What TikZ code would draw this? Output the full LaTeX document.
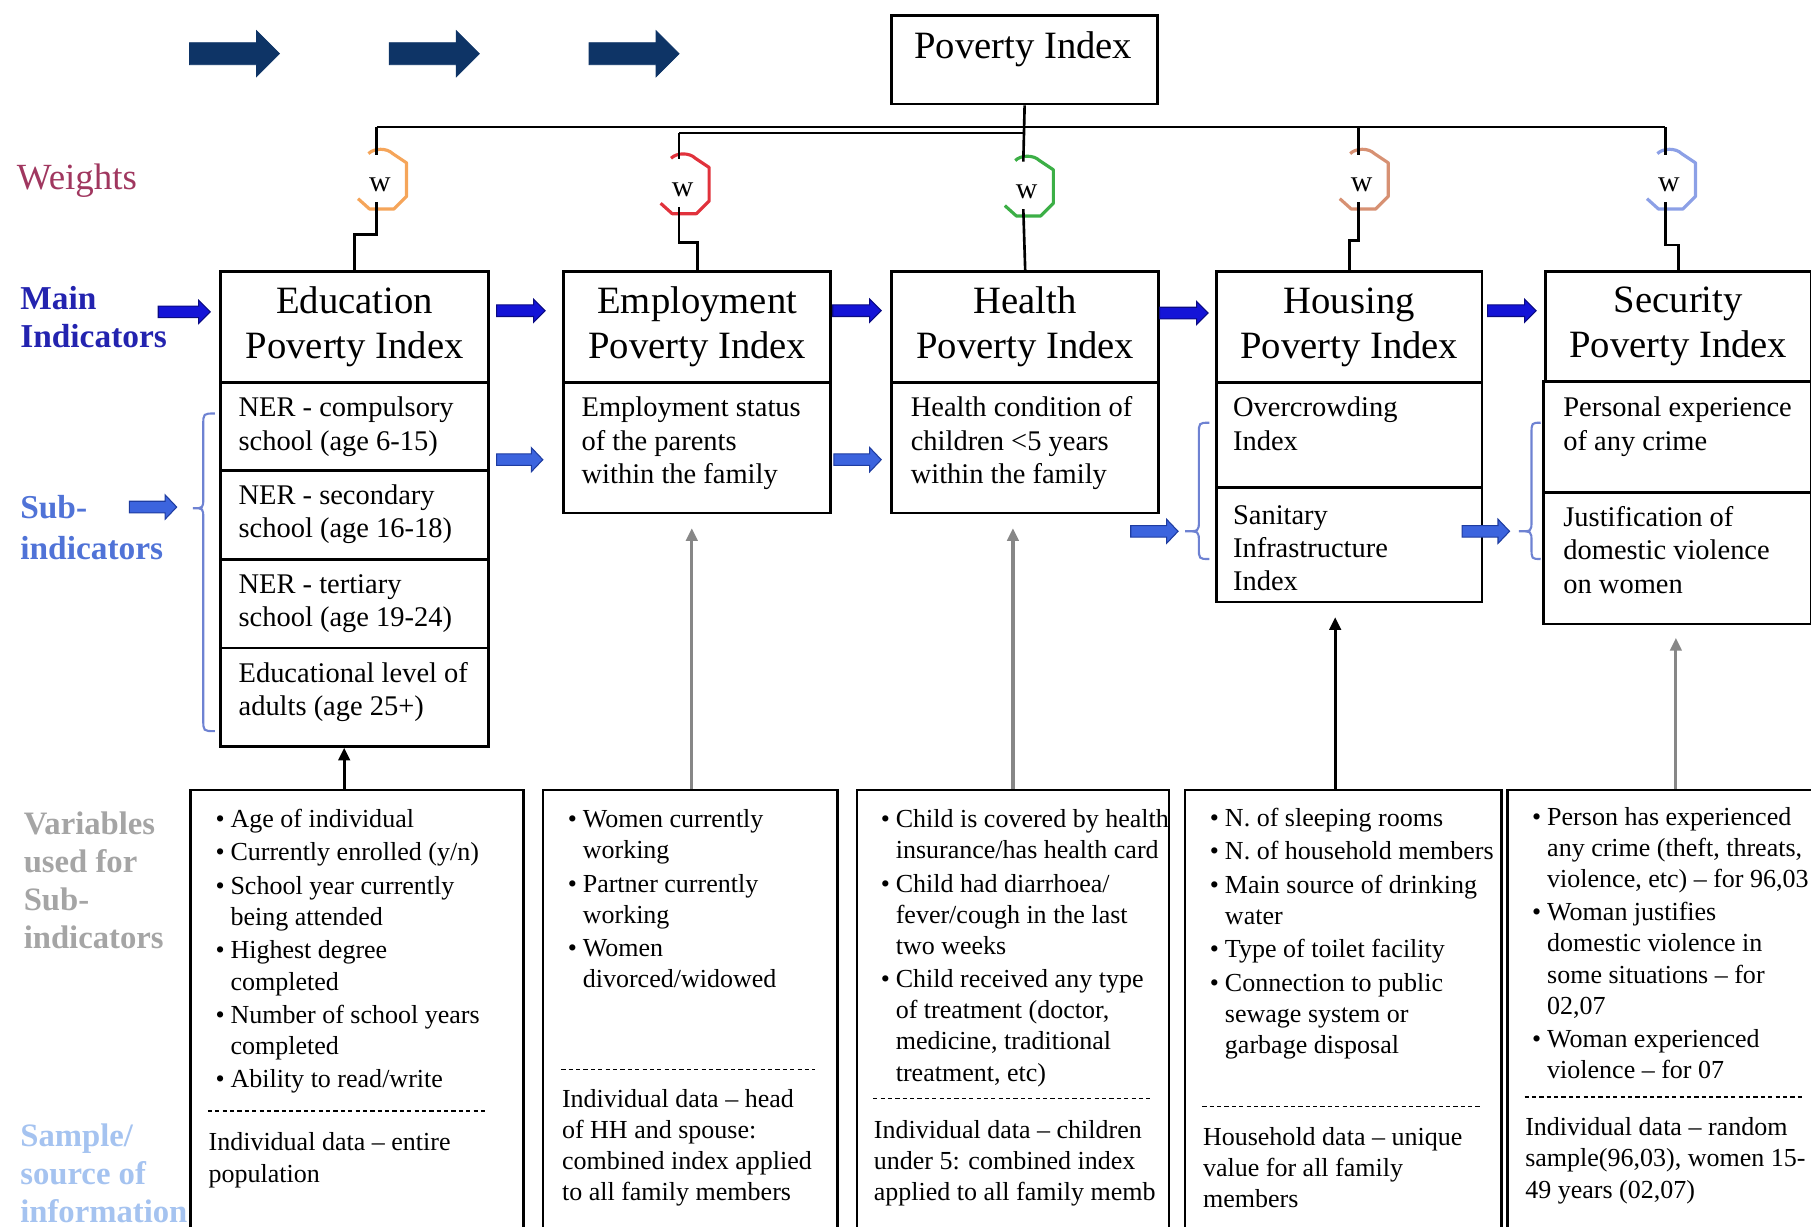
\documentclass[tikz,border=0pt]{standalone}
\usepackage{fontspec}
\setmainfont{Liberation Serif}
\usetikzlibrary{arrows.meta}
\newdimen\pxu
\pxu=0.1155mm
\definecolor{navyA}{RGB}{14,52,102}
\definecolor{mainblue}{RGB}{20,20,215}
\definecolor{mainblueD}{RGB}{10,10,130}
\definecolor{subblue}{RGB}{60,100,222}
\definecolor{subblueD}{RGB}{30,60,160}
\definecolor{bracecol}{RGB}{110,130,210}
\definecolor{wtcol}{RGB}{160,55,95}
\definecolor{milab}{RGB}{35,35,175}
\definecolor{silab}{RGB}{80,115,215}
\definecolor{varlab}{RGB}{165,165,165}
\definecolor{smplab}{RGB}{165,195,240}
\definecolor{wor}{RGB}{245,165,90}
\definecolor{wred}{RGB}{225,50,60}
\definecolor{wgreen}{RGB}{60,175,70}
\definecolor{wbrown}{RGB}{215,145,115}
\definecolor{wblue}{RGB}{140,160,230}
\definecolor{grayarr}{RGB}{135,135,135}
\newcommand{\vbul}{\makebox[13\pxu][l]{\textbullet}}
\newcommand{\vgap}{0.66pt}
\newcommand{\fatarr}[7]{%
  \filldraw[#1] (#2,{#4-#5}) -- ({#3-#7},{#4-#5}) -- ({#3-#7},{#4-#6}) -- (#3,#4)
   -- ({#3-#7},{#4+#6}) -- ({#3-#7},{#4+#5}) -- (#2,{#4+#5}) -- cycle;}
\newcommand{\wmark}[4]{%
  \node[wtxt] (#1) at ({#2+3},#3) {w};
  \coordinate (#1-t) at (#2,{#3-26});
  \coordinate (#1-b) at (#2,{#3+15});
  \draw[#4, line width=0.9pt, line join=round] ({#2-7},{#3-27}) .. controls ({#2-2},{#3-32}) and ({#2+9},{#3-32}) .. ({#2+14},{#3-27})
   -- ({#2+26},{#3-19}) -- ({#2+26},{#3+10}) -- ({#2+15},{#3+21}) -- ({#2-6},{#3+21}) -- ({#2-16},{#3+12});}
\newcommand{\bracepath}[6]{%
  \draw[bracest] (#1,#4) .. controls (#2,#4) .. (#2,{#4+10}) -- (#2,{#5-9})
   .. controls (#2,#5) .. (#3,#5) .. controls (#2,#5) .. (#2,{#5+9}) -- (#2,{#6-10})
   .. controls (#2,#6) .. (#1,#6);}
\begin{document}
\begin{tikzpicture}[x=0.1155mm,y=-0.1155mm,
  ibox/.style={draw=black, line width=0.75pt, inner sep=0pt, anchor=north west},
  ttl/.style={font=\fontsize{11}{12.8}\selectfont, align=center},
  subtxt/.style={anchor=north west, inner sep=0pt, align=left, yshift=-3\pxu, font=\fontsize{8.1}{9.5}\selectfont},
  bodytxt/.style={anchor=north west, inner sep=0pt, align=left, yshift=-3\pxu, font=\fontsize{7.4}{8.85}\selectfont},
  bus/.style={line width=0.75pt},
  wtxt/.style={inner sep=0pt, font=\fontsize{8.5}{10}\selectfont},
  uparr/.style={line width=0.9pt, -{Triangle[length=3.6pt,width=3.2pt]}},
  uparrg/.style={uparr, draw=grayarr, shorten >=12\pxu},
  dsep/.style={line width=0.5pt, dash pattern=on 1.2pt off 0.9pt},
  sidelab/.style={anchor=north west, inner sep=0pt, align=left, yshift=-3\pxu},
  bracest/.style={draw=bracecol, line width=0.6pt},
  navyst/.style={fill=navyA, draw=navyA, line width=0.2pt},
  mainst/.style={fill=mainblue, draw=mainblueD, line width=0.3pt},
  subst/.style={fill=subblue, draw=subblueD, line width=0.3pt}]
\useasboundingbox (0,0) rectangle (1568,1062);
\clip (0,0) rectangle (1568,1062);

% top arrows
\fatarr{navyst}{164}{242}{46.5}{9.5}{20}{20}
\fatarr{navyst}{337}{415}{46.5}{9.5}{20}{20}
\fatarr{navyst}{510}{588}{46.5}{9.5}{20}{20}

% top box
\node[ibox, minimum width=230\pxu, minimum height=77\pxu] (pibox) at (771,12) {};
\node[ttl] (pitxt) at (886,43) {Poverty Index};

% side labels
\node[sidelab, font=\fontsize{10.5}{12.6}\selectfont, text=wtcol] (lw) at (14,134) {\strut Weights};
\node[sidelab, font=\fontsize{9.5}{10.8}\selectfont\bfseries, text=milab] (lmi) at (17,241) {\strut Main\\Indicators};
\node[sidelab, font=\fontsize{9.5}{11.5}\selectfont\bfseries, text=silab] (lsi) at (17,421) {\strut Sub-\\indicators};
\node[sidelab, font=\fontsize{9.3}{10.8}\selectfont\bfseries, text=varlab] (lvar) at (20,696) {\strut Variables\\used for\\Sub-\\indicators};
\node[sidelab, font=\fontsize{9.3}{10.8}\selectfont\bfseries, text=smplab] (lsmp) at (17,966) {\strut Sample/\\source of\\information};

% main indicator boxes
\node[ibox, ttl, minimum width=232\pxu, minimum height=96\pxu] (eduT) at (190,234) {Education\\Poverty Index};
\node[ibox, minimum width=232\pxu, minimum height=76\pxu] (edu1) at (190,330) {};
\node[ibox, minimum width=232\pxu, minimum height=77\pxu] (edu2) at (190,406) {};
\node[ibox, minimum width=232\pxu, minimum height=77\pxu] (edu3) at (190,483) {};
\node[ibox, minimum width=232\pxu, minimum height=85\pxu] (edu4) at (190,560) {};
\node[ibox, ttl, minimum width=231\pxu, minimum height=96\pxu] (empT) at (487,234) {Employment\\Poverty Index};
\node[ibox, minimum width=231\pxu, minimum height=113\pxu] (empS) at (487,330) {};
\node[ibox, ttl, minimum width=231\pxu, minimum height=96\pxu] (heaT) at (771,234) {Health\\Poverty Index};
\node[ibox, minimum width=231\pxu, minimum height=113\pxu] (heaS) at (771,330) {};
\node[ibox, ttl, minimum width=230\pxu, minimum height=96\pxu] (houT) at (1052,234) {Housing\\Poverty Index};
\node[ibox, minimum width=230\pxu, minimum height=91\pxu] (hou1) at (1052,330) {};
\node[ibox, minimum width=230\pxu, minimum height=99\pxu] (hou2) at (1052,421) {};
\node[ibox, ttl, minimum width=230\pxu, minimum height=95\pxu] (secT) at (1337,234) {Security\\Poverty Index};
\node[ibox, minimum width=232\pxu, minimum height=96\pxu] (sec1) at (1335,329) {};
\node[ibox, minimum width=232\pxu, minimum height=114\pxu] (sec2) at (1335,425) {};

% sub-indicator texts
\node[subtxt] (edu1t) at (206,337) {\strut NER - compulsory\\school (age 6-15)};
\node[subtxt] (edu2t) at (206,413) {\strut NER - secondary\\school (age 16-18)};
\node[subtxt] (edu3t) at (206,490) {\strut NER - tertiary\\school (age 19-24)};
\node[subtxt] (edu4t) at (206,567) {\strut Educational level of\\adults (age 25+)};
\node[subtxt] (empt) at (503,337) {\strut Employment status\\of the parents\\within the family};
\node[subtxt] (heat) at (788,337) {\strut Health condition of\\children <5 years\\within the family};
\node[subtxt] (hou1t) at (1067,337) {\strut Overcrowding\\Index};
\node[subtxt] (hou2t) at (1067,430) {\strut Sanitary\\Infrastructure\\Index};
\node[subtxt] (sec1t) at (1353,337) {\strut Personal experience\\of any crime};
\node[subtxt] (sec2t) at (1353,432) {\strut Justification of\\domestic violence\\on women};

% weights
\wmark{w1}{326}{160}{wor}
\wmark{w2}{588}{164}{wred}
\wmark{w3}{886}{166}{wgreen}
\wmark{w4}{1176}{160}{wbrown}
\wmark{w5}{1442}{160}{wblue}

% bus lines
\coordinate (busL) at (326,110);
\coordinate (busR) at (1442,110);
\coordinate (b4) at (1176,110);
\coordinate (busB) at (588,115);
\coordinate (busC) at (886,115);
\draw[bus] (busL) -- (busR);
\draw[bus] (busB) -- (busC);
\draw[bus] (pibox.south) -- (w3-t);
\draw[bus] (busL) -- (w1-t);
\draw[bus] (busB) -- (w2-t);
\draw[bus] (b4) -- (w4-t);
\draw[bus] (busR) -- (w5-t);
\coordinate (j1) at (326,203);
\coordinate (j2) at (588,210);
\coordinate (j4) at (1176,208);
\coordinate (j5) at (1442,212);
\draw[bus] (w1-b) -- (j1) -| (eduT.north);
\draw[bus] (w2-b) -- (j2) -| (empT.north);
\draw[bus] (w3-b) -- (heaT.north);
\draw[bus] (w4-b) -- (j4) -| (houT.north);
\draw[bus] (w5-b) -- (j5) -| (secT.north);

% main indicator arrows
\fatarr{mainst}{137}{182}{270}{5}{10}{10}
\fatarr{mainst}{430}{472}{269}{5}{10}{10}
\fatarr{mainst}{721}{763}{269}{5}{10}{10}
\fatarr{mainst}{1004}{1046}{271}{5}{10}{10}
\fatarr{mainst}{1288}{1330}{269}{5}{10}{10}

% sub indicator arrows
\fatarr{subst}{112}{153}{439}{5}{10.5}{10}
\fatarr{subst}{430}{470}{398}{5}{10.5}{10}
\fatarr{subst}{722}{763}{398}{5}{10.5}{10}
\fatarr{subst}{979}{1020}{460}{5}{10.5}{10}
\fatarr{subst}{1266}{1307}{460}{5}{10.5}{10}

% braces
\bracepath{186}{176}{167}{358}{440}{633}
\bracepath{1047}{1038}{1026}{366}{460}{484}
\bracepath{1334}{1326}{1315}{366}{460}{484}

% bottom boxes
\node[ibox, minimum width=288\pxu, minimum height=400\pxu] (v1) at (164,683) {};
\node[ibox, minimum width=255\pxu, minimum height=400\pxu] (v2) at (469,683) {};
\node[ibox, minimum width=270\pxu, minimum height=400\pxu] (v3) at (741,683) {};
\node[ibox, minimum width=274\pxu, minimum height=400\pxu] (v4) at (1025,683) {};
\node[ibox, minimum width=290\pxu, minimum height=400\pxu] (v5) at (1304,683) {};

% vertical arrows
\coordinate (a1) at (298,683);
\coordinate (a2) at (599,683);
\coordinate (a3) at (877,683);
\coordinate (a4) at (1156,683);
\coordinate (a5) at (1451,683);
\draw[uparr] (a1) -- (a1 |- edu4.south);
\draw[uparrg] (a2) -- (a2 |- empS.south);
\draw[uparrg] (a3) -- (a3 |- heaS.south);
\draw[uparr, shorten >=12\pxu] (a4) -- (a4 |- hou2.south);
\draw[uparrg, shorten >=11\pxu] (a5) -- (a5 |- sec2.south);

% bottom box texts
\node[bodytxt] (v1l) at (186,694) {\begin{tabular}{@{}l@{}l@{}}
\vbul & Age of individual\\[\vgap]
\vbul & Currently enrolled (y/n)\\[\vgap]
\vbul & School year currently\\
 & being attended\\[\vgap]
\vbul & Highest degree\\
 & completed\\[\vgap]
\vbul & Number of school years\\
 & completed\\[\vgap]
\vbul & Ability to read/write
\end{tabular}};
\draw[dsep] (180,962) -- (422,962);
\node[bodytxt] (v1s) at (180,974) {\strut Individual data – entire\\population};

\node[bodytxt] (v2l) at (491,694) {\begin{tabular}{@{}l@{}l@{}}
\vbul & Women currently\\
 & working\\[\vgap]
\vbul & Partner currently\\
 & working\\[\vgap]
\vbul & Women\\
 & divorced/widowed
\end{tabular}};
\draw[dsep] (486,926) -- (706,926);
\node[bodytxt] (v2s) at (486,936) {\strut Individual data – head\\of HH and spouse:\\combined index applied\\to all family members};

\node[bodytxt] (v3l) at (762,694) {\begin{tabular}{@{}l@{}l@{}}
\vbul & Child is covered by health\\
 & insurance/has health card\\[\vgap]
\vbul & Child had diarrhoea/\\
 & fever/cough in the last\\
 & two weeks\\[\vgap]
\vbul & Child received any type\\
 & of treatment (doctor,\\
 & medicine, traditional\\
 & treatment, etc)
\end{tabular}};
\draw[dsep] (756,951) -- (997,951);
\node[bodytxt] (v3s) at (756,963) {\strut Individual data – children\\under 5: combined index\\applied to all family memb};

\node[bodytxt] (v4l) at (1047,693) {\begin{tabular}{@{}l@{}l@{}}
\vbul & N. of sleeping rooms\\[\vgap]
\vbul & N. of household members\\[\vgap]
\vbul & Main source of drinking\\
 & water\\[\vgap]
\vbul & Type of toilet facility\\[\vgap]
\vbul & Connection to public\\
 & sewage system or\\
 & garbage disposal
\end{tabular}};
\draw[dsep] (1041,958) -- (1282,958);
\node[bodytxt] (v4s) at (1041,969) {\strut Household data – unique\\value for all family\\members};

\node[bodytxt] (v5l) at (1326,692) {\begin{tabular}{@{}l@{}l@{}}
\vbul & Person has experienced\\
 & any crime (theft, threats,\\
 & violence, etc) – for 96,03\\[\vgap]
\vbul & Woman justifies\\
 & domestic violence in\\
 & some situations – for\\
 & 02,07\\[\vgap]
\vbul & Woman experienced\\
 & violence – for 07
\end{tabular}};
\draw[dsep] (1320,950) -- (1560,950);
\node[bodytxt] (v5s) at (1320,961) {\strut Individual data – random\\sample(96,03), women 15-\\49 years (02,07)};
\end{tikzpicture}
\end{document}
